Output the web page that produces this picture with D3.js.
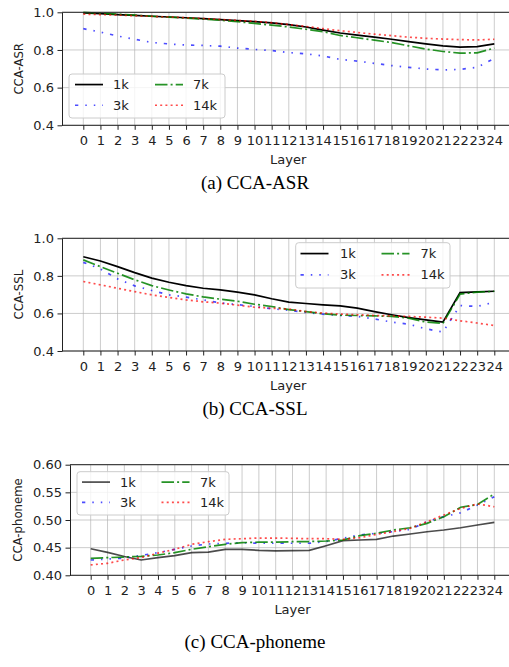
<!DOCTYPE html>
<html>
<head>
<meta charset="utf-8">
<script src="https://cdn.jsdelivr.net/npm/d3@7"></script>
<style>
  body { margin: 0; background: #fff; }
  svg { display: block; font-family: "DejaVu Sans", sans-serif; }
</style>
</head>
<body>
<svg id="chart"></svg>
<script>
// --------------------
// Data
// --------------------
const layers = [0,1,2,3,4,5,6,7,8,9,10,11,12,13,14,15,16,17,18,19,20,21,22,23,24];
const seriesNames = ["1k", "3k", "7k", "14k"];

const asr1k  = [0.997,0.993,0.988,0.984,0.979,0.975,0.971,0.966,0.961,0.956,0.951,0.944,0.935,0.922,0.905,0.890,0.879,0.868,0.857,0.844,0.832,0.822,0.815,0.818,0.832];
const asr3k  = [0.913,0.895,0.874,0.857,0.840,0.832,0.826,0.824,0.820,0.810,0.803,0.797,0.786,0.780,0.768,0.750,0.741,0.729,0.717,0.708,0.699,0.694,0.697,0.708,0.756];
const asr7k  = [1.000,0.995,0.990,0.985,0.979,0.974,0.969,0.964,0.958,0.950,0.941,0.932,0.922,0.910,0.897,0.877,0.865,0.852,0.839,0.822,0.805,0.792,0.783,0.785,0.810];
const asr14k = [0.990,0.988,0.985,0.982,0.978,0.975,0.971,0.967,0.962,0.957,0.952,0.945,0.935,0.925,0.913,0.902,0.893,0.884,0.876,0.868,0.862,0.858,0.855,0.853,0.857];

const ssl1k  = [0.902,0.879,0.849,0.817,0.788,0.766,0.748,0.734,0.725,0.713,0.699,0.678,0.660,0.653,0.646,0.640,0.628,0.610,0.593,0.578,0.566,0.554,0.711,0.715,0.718];
const ssl3k  = [0.872,0.837,0.784,0.747,0.722,0.699,0.687,0.672,0.656,0.647,0.637,0.625,0.617,0.605,0.596,0.589,0.584,0.571,0.554,0.543,0.518,0.501,0.642,0.637,0.660];
const ssl7k  = [0.885,0.849,0.814,0.779,0.748,0.725,0.704,0.688,0.676,0.665,0.649,0.637,0.620,0.610,0.598,0.591,0.589,0.587,0.584,0.575,0.554,0.547,0.703,0.713,0.718];
const ssl14k = [0.770,0.752,0.734,0.716,0.699,0.685,0.672,0.662,0.655,0.644,0.633,0.628,0.623,0.610,0.602,0.596,0.593,0.589,0.587,0.584,0.580,0.575,0.561,0.549,0.536];

const ph1k  = [0.448,0.4415,0.434,0.4277,0.432,0.4355,0.441,0.442,0.447,0.447,0.445,0.444,0.4445,0.445,0.4535,0.4626,0.4638,0.465,0.471,0.4747,0.4788,0.4819,0.486,0.491,0.4957];
const ph3k  = [0.4277,0.4295,0.431,0.436,0.441,0.447,0.453,0.4566,0.4578,0.459,0.458,0.458,0.458,0.458,0.461,0.467,0.473,0.4759,0.479,0.483,0.497,0.506,0.513,0.527,0.542];
const ph7k  = [0.4307,0.432,0.433,0.4343,0.4367,0.441,0.447,0.4517,0.456,0.459,0.460,0.460,0.4608,0.461,0.462,0.4638,0.4716,0.4759,0.4819,0.486,0.494,0.506,0.523,0.528,0.547];
const ph14k = [0.4187,0.4217,0.4277,0.432,0.440,0.447,0.456,0.4608,0.465,0.4662,0.4674,0.4674,0.4668,0.4662,0.4662,0.465,0.468,0.474,0.479,0.485,0.497,0.509,0.521,0.529,0.524];

const asrTicks = [0.4, 0.6, 0.8, 1.0];
const sslTicks = [0.4, 0.6, 0.8, 1.0];
const phTicks  = [0.40, 0.45, 0.50, 0.55, 0.60];

// --------------------
// Layout / styles
// --------------------
const width = 509, height = 667;

const styles = [
  { color: "#000000", opacity: 1.0, dash: null },
  { color: "#0000ff", opacity: 0.7, dash: "3.3 7 1.5 7 1.5 7" },
  { color: "#008000", opacity: 0.85, dash: "12.5 3.1 2 3.1" },
  { color: "#ff0000", opacity: 0.7, dash: "2 3.2" }
];

const panels = [
  { series: [asr1k, asr3k, asr7k, asr14k], ticks: asrTicks, fmt: ".1f", ylabel: "CCA-ASR", caption: "(a) CCA-ASR",
    left: 62, right: 514.4, top: 12.3, bottom: 125.3, x0: 83.3, x24: 494.3, labelX: 23, captionY: 188.5,
    legend: { x: 69, y: 74, w: 156, h: 44, c1: 75, t1: 113, c2: 155, t2: 193 }, alpha: 1 },
  { series: [ssl1k, ssl3k, ssl7k, ssl14k], ticks: sslTicks, fmt: ".1f", ylabel: "CCA-SSL", caption: "(b) CCA-SSL",
    left: 62, right: 514.4, top: 238.3, bottom: 351, x0: 83.3, x24: 494.3, labelX: 23, captionY: 414.5,
    legend: { x: 295.7, y: 242.7, w: 154.3, h: 45.3, c1: 300.5, t1: 340, c2: 381.5, t2: 420.5 }, alpha: 1 },
  { series: [ph1k, ph3k, ph7k, ph14k], ticks: phTicks, fmt: ".2f", ylabel: "CCA-phoneme", caption: "(c) CCA-phoneme",
    left: 70, right: 515, top: 464.7, bottom: 575.3, x0: 90.7, x24: 494.3, labelX: 22, captionY: 648,
    legend: { x: 77, y: 471.7, w: 152, h: 43.3, c1: 82, t1: 120, c2: 161.5, t2: 200 }, alpha: 0.75 }
];

const svg = d3.select("#chart")
  .attr("width", width)
  .attr("height", height);

svg.append("rect").attr("width", width).attr("height", height).attr("fill", "#fff");

panels.forEach(p => {
  const g = svg.append("g");

  const x = d3.scaleLinear().domain([0, 24]).range([p.x0, p.x24]);
  const y = d3.scaleLinear().domain([p.ticks[0], p.ticks[p.ticks.length - 1]]).range([p.bottom, p.top]);

  // grid
  g.append("g").selectAll("line.vg")
    .data(layers)
    .join("line")
      .attr("x1", d => x(d)).attr("x2", d => x(d))
      .attr("y1", p.top).attr("y2", p.bottom)
      .attr("stroke", "#b0b0b0").attr("stroke-opacity", 0.65).attr("stroke-width", 1);
  g.append("g").selectAll("line.hg")
    .data(p.ticks)
    .join("line")
      .attr("x1", p.left).attr("x2", p.right)
      .attr("y1", d => y(d)).attr("y2", d => y(d))
      .attr("stroke", "#b0b0b0").attr("stroke-opacity", 0.65).attr("stroke-width", 1);

  // lines
  const line = d3.line().x((d, i) => x(layers[i])).y(d => y(d));
  p.series.forEach((s, i) => {
    const st = styles[i];
    g.append("path")
      .datum(s)
      .attr("d", line)
      .attr("fill", "none")
      .attr("stroke", st.color)
      .attr("stroke-opacity", i === 0 && p.alpha < 1 ? 0.7 : st.opacity)
      .attr("stroke-width", 1.7)
      .attr("stroke-dasharray", st.dash);
  });

  // axes
  const yAxis = d3.axisLeft(y).tickValues(p.ticks).tickFormat(d3.format(p.fmt))
    .tickSize(4.5).tickPadding(3.5).tickSizeOuter(0);
  const ya = g.append("g").attr("transform", `translate(${p.left},0)`).call(yAxis);

  const xAxis = d3.axisBottom(x).tickValues(layers).tickFormat(d3.format("d"))
    .tickSize(4.5).tickPadding(6);
  const xa = g.append("g").attr("transform", `translate(0,${p.bottom})`).call(xAxis);
  xa.select(".domain").remove();

  [ya, xa].forEach(a => {
    a.selectAll("text").attr("font-size", 13).attr("fill", "#222").attr("font-family", "DejaVu Sans");
    a.selectAll("line").attr("stroke", "#222").attr("stroke-width", 1);
    a.select(".domain").attr("stroke", "#222").attr("stroke-width", 1);
  });

  // spines
  g.append("line").attr("x1", p.left).attr("x2", p.right).attr("y1", p.bottom).attr("y2", p.bottom)
    .attr("stroke", "#222").attr("stroke-width", 1);
  g.append("line").attr("x1", p.left).attr("x2", p.right).attr("y1", p.top).attr("y2", p.top)
    .attr("stroke", "#222").attr("stroke-width", 1);

  // labels
  g.append("text")
    .attr("x", (p.left + p.right) / 2).attr("y", p.bottom + 38.5)
    .attr("text-anchor", "middle").attr("font-size", 13).attr("fill", "#222")
    .text("Layer");
  g.append("text")
    .attr("transform", `translate(${p.labelX},${(p.top + p.bottom) / 2}) rotate(-90)`)
    .attr("text-anchor", "middle").attr("font-size", 11.7).attr("fill", "#222")
    .text(p.ylabel);
  g.append("text")
    .attr("x", 255).attr("y", p.captionY)
    .attr("text-anchor", "middle").attr("font-size", 19)
    .attr("font-family", "Liberation Serif, Times New Roman, serif").attr("fill", "#000")
    .text(p.caption);

  // legend
  const L = p.legend;
  const lg = g.append("g");
  lg.append("rect")
    .attr("x", L.x).attr("y", L.y).attr("width", L.w).attr("height", L.h).attr("rx", 3)
    .attr("fill", "#fff").attr("fill-opacity", 0.8)
    .attr("stroke", "#cccccc").attr("stroke-width", 1);
  const rowH = L.h * 0.47;
  seriesNames.forEach((name, i) => {
    const col = Math.floor(i / 2), row = i % 2;
    const cy = L.y + L.h * 0.24 + row * rowH;
    const lx = col === 0 ? L.c1 : L.c2;
    const tx = col === 0 ? L.t1 : L.t2;
    const st = styles[i];
    lg.append("line")
      .attr("x1", lx).attr("x2", lx + 28).attr("y1", cy).attr("y2", cy)
      .attr("stroke", st.color)
      .attr("stroke-opacity", i === 0 && p.alpha < 1 ? 0.7 : st.opacity)
      .attr("stroke-width", 1.7)
      .attr("stroke-dasharray", st.dash);
    lg.append("text")
      .attr("x", tx).attr("y", cy).attr("dy", "0.35em")
      .attr("font-size", 13).attr("fill", "#222")
      .text(name);
  });
});
</script>
</body>
</html>
